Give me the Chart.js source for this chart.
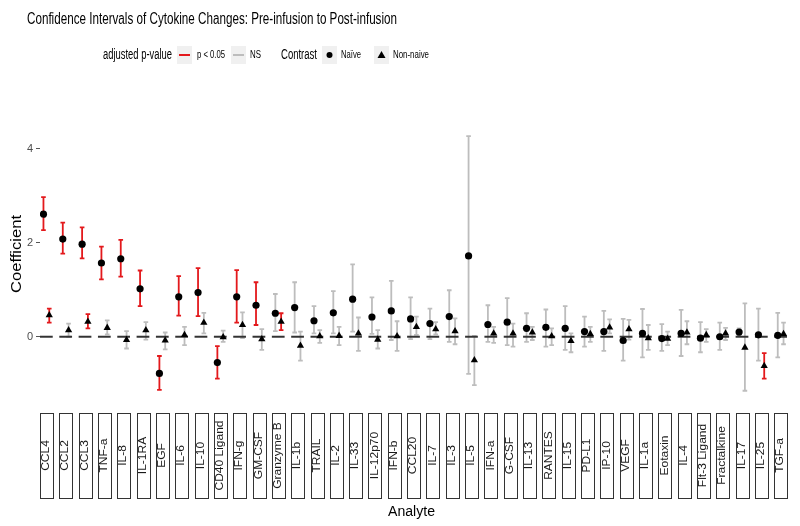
<!DOCTYPE html>
<html>
<head>
<meta charset="utf-8">
<script src="https://cdn.jsdelivr.net/npm/chart.js@4/dist/chart.umd.min.js"></script>
<style>
  html, body { margin: 0; padding: 0; background: #fff; }
  #wrap { width: 800px; height: 526px; }
</style>
</head>
<body>
<div id="wrap"><canvas id="chart" width="800" height="526"></canvas></div>
<script>
const analytes = ['CCL4', 'CCL2', 'CCL3', 'TNF-a', 'IL-8', 'IL-1RA', 'EGF', 'IL-6', 'IL-10', 'CD40 Ligand',
  'IFN-g', 'GM-CSF', 'Granzyme B', 'IL-1b', 'TRAIL', 'IL-2', 'IL-33', 'IL-12p70', 'IFN-b', 'CCL20',
  'IL-7', 'IL-3', 'IL-5', 'IFN-a', 'G-CSF', 'IL-13', 'RANTES', 'IL-15', 'PD-L1', 'IP-10',
  'VEGF', 'IL-1a', 'Eotaxin', 'IL-4', 'Flt-3 Ligand', 'Fractalkine', 'IL-17', 'IL-25', 'TGF-a'];

// Naive contrast
const naiveEst = [2.61, 2.08, 1.97, 1.57, 1.66, 1.02, -0.78, 0.85, 0.94, -0.55,
  0.85, 0.67, 0.50, 0.62, 0.34, 0.51, 0.80, 0.42, 0.55, 0.38,
  0.28, 0.43, 1.72, 0.26, 0.31, 0.18, 0.20, 0.18, 0.11, 0.11,
  -0.08, 0.07, -0.04, 0.07, -0.03, 0.00, 0.10, 0.04, 0.03];
const naiveLo = [2.27, 1.77, 1.67, 1.22, 1.28, 0.65, -1.13, 0.45, 0.44, -0.89,
  0.30, 0.25, 0.12, 0.09, 0.07, 0.07, 0.11, 0.06, -0.07, -0.05,
  -0.05, -0.11, -0.79, -0.11, -0.18, -0.11, -0.21, -0.28, -0.21, -0.30,
  -0.51, -0.44, -0.30, -0.41, -0.33, -0.28, 0.03, -0.51, -0.44];
const naiveHi = [2.97, 2.43, 2.33, 1.92, 2.06, 1.41, -0.41, 1.29, 1.46, -0.20,
  1.42, 1.16, 0.91, 1.16, 0.65, 0.97, 1.54, 0.84, 1.19, 0.84,
  0.60, 0.99, 4.27, 0.67, 0.82, 0.50, 0.58, 0.65, 0.43, 0.55,
  0.38, 0.59, 0.27, 0.57, 0.31, 0.30, 0.18, 0.60, 0.51];
const naiveSig = [1, 1, 1, 1, 1, 1, 1, 1, 1, 1,
  1, 1, 0, 0, 0, 0, 0, 0, 0, 0,
  0, 0, 0, 0, 0, 0, 0, 0, 0, 0,
  0, 0, 0, 0, 0, 0, 0, 0, 0];

// Non-naive contrast
const nonNaiveEst = [0.46, 0.14, 0.32, 0.19, -0.07, 0.14, -0.08, 0.04, 0.30, -0.01,
  0.25, -0.05, 0.32, -0.19, 0.01, 0.02, 0.07, -0.06, 0.01, 0.21,
  0.16, 0.12, -0.50, 0.07, 0.07, 0.09, 0.01, -0.09, 0.06, 0.20,
  0.16, -0.03, -0.04, 0.09, 0.04, 0.07, -0.23, -0.62, 0.06];
const nonNaiveLo = [0.30, 0.00, 0.18, 0.05, -0.25, -0.06, -0.27, -0.18, 0.07, -0.11,
  -0.03, -0.28, 0.14, -0.51, -0.13, -0.18, -0.30, -0.25, -0.30, 0.04,
  0.05, -0.16, -1.03, -0.13, -0.21, -0.07, -0.18, -0.33, -0.11, 0.07,
  -0.06, -0.28, -0.18, -0.16, -0.11, -0.07, -1.15, -0.89, -0.16];
const nonNaiveHi = [0.60, 0.28, 0.48, 0.35, 0.12, 0.31, 0.09, 0.21, 0.51, 0.13,
  0.52, 0.16, 0.50, 0.11, 0.14, 0.21, 0.41, 0.14, 0.33, 0.43,
  0.31, 0.39, 0.02, 0.21, 0.28, 0.21, 0.18, 0.07, 0.21, 0.37,
  0.36, 0.25, 0.11, 0.33, 0.16, 0.19, 0.71, -0.35, 0.30];
const nonNaiveSig = [1, 0, 1, 0, 0, 0, 0, 0, 0, 0,
  0, 0, 1, 0, 0, 0, 0, 0, 0, 0,
  0, 0, 0, 0, 0, 0, 0, 0, 0, 0,
  0, 0, 0, 0, 0, 0, 0, 1, 0];

const yTicks = [0, 2, 4];

const RED = '#e3191c';
const GREY = '#bdbdbd';
const FONT = '"Liberation Sans", Arial, sans-serif';
const dodge = 0.15;
const panelHalf = 0.33;

// draws text centred on x,y squeezed to a target width
function fitText(ctx, text, x, y, size, width, color, rotate) {
  ctx.save();
  ctx.font = size + 'px ' + FONT;
  ctx.fillStyle = color;
  ctx.textAlign = 'center';
  ctx.textBaseline = 'middle';
  const w = ctx.measureText(text).width;
  ctx.translate(x, y);
  if (rotate) ctx.rotate(-Math.PI / 2);
  ctx.scale(width / w, 1);
  ctx.fillText(text, 0, 0);
  ctx.restore();
}

function errorBar(ctx, xs, ys, x, lo, hi, sig) {
  const px = xs.getPixelForValue(x);
  const cap = xs.getPixelForValue(x + 0.12) - px;
  const y1 = ys.getPixelForValue(lo), y2 = ys.getPixelForValue(hi);
  ctx.strokeStyle = sig ? RED : GREY;
  ctx.lineWidth = 1.8;
  ctx.beginPath();
  ctx.moveTo(px, y1); ctx.lineTo(px, y2);
  ctx.moveTo(px - cap, y1); ctx.lineTo(px + cap, y1);
  ctx.moveTo(px - cap, y2); ctx.lineTo(px + cap, y2);
  ctx.stroke();
}

const facetPlugin = {
  id: 'facets',
  beforeDatasetsDraw(chart) {
    const ctx = chart.ctx;
    const xs = chart.scales.x, ys = chart.scales.y;
    ctx.save();
    analytes.forEach((a, i) => {
      errorBar(ctx, xs, ys, i + 1 - dodge, naiveLo[i], naiveHi[i], naiveSig[i]);
      errorBar(ctx, xs, ys, i + 1 + dodge, nonNaiveLo[i], nonNaiveHi[i], nonNaiveSig[i]);
    });
    // dashed zero reference, one segment per panel
    const y0 = ys.getPixelForValue(0);
    ctx.strokeStyle = '#333';
    ctx.lineWidth = 2;
    analytes.forEach((a, i) => {
      ctx.beginPath();
      ctx.moveTo(xs.getPixelForValue(i + 1 - panelHalf), y0);
      ctx.lineTo(xs.getPixelForValue(i + 1 + panelHalf), y0);
      ctx.stroke();
    });
    ctx.restore();
  },
  afterDraw(chart) {
    const ctx = chart.ctx;
    const xs = chart.scales.x;
    ctx.save();
    // strips under each panel
    const top = 413, bottom = 498;
    analytes.forEach((a, i) => {
      const l = xs.getPixelForValue(i + 1 - panelHalf);
      const r = xs.getPixelForValue(i + 1 + panelHalf);
      ctx.fillStyle = '#fff';
      ctx.strokeStyle = '#333';
      ctx.lineWidth = 1;
      ctx.fillRect(l, top, r - l, bottom - top);
      ctx.strokeRect(Math.round(l) + 0.5, top + 0.5, Math.round(r - l), bottom - top);
      ctx.save();
      ctx.translate((l + r) / 2, (top + bottom) / 2);
      ctx.rotate(-Math.PI / 2);
      ctx.scale(1, 0.85);
      ctx.font = '12px ' + FONT;
      ctx.fillStyle = '#1a1a1a';
      ctx.textAlign = 'center';
      ctx.textBaseline = 'middle';
      ctx.fillText(a, 0, 0);
      ctx.restore();
    });

    // titles
    fitText(ctx, 'Confidence Intervals of Cytokine Changes: Pre-infusion to Post-infusion', 212, 19.5, 16, 370, '#000');
    fitText(ctx, 'Coefficient', 17, 254, 15, 78, '#000', true);
    fitText(ctx, 'Analyte', 411.5, 512, 14, 47, '#000');

    // legend
    const ly = 55;
    fitText(ctx, 'adjusted p-value', 137.5, ly, 14, 69, '#000');
    const keys = [177, 231, 322, 374];
    keys.forEach(k => { ctx.fillStyle = '#f0f0f0'; ctx.fillRect(k, 46, 15, 18); });
    ctx.lineWidth = 2;
    ctx.strokeStyle = RED;
    ctx.beginPath(); ctx.moveTo(179, ly); ctx.lineTo(190, ly); ctx.stroke();
    ctx.strokeStyle = GREY;
    ctx.beginPath(); ctx.moveTo(233, ly); ctx.lineTo(244, ly); ctx.stroke();
    fitText(ctx, 'p < 0.05', 211, ly, 11, 28, '#000');
    fitText(ctx, 'NS', 255.5, ly, 11, 11, '#000');
    fitText(ctx, 'Contrast', 299, ly, 14, 36, '#000');
    fitText(ctx, 'Naïve', 351, ly, 11, 20, '#000');
    fitText(ctx, 'Non-naive', 411, ly, 11, 36, '#000');
    ctx.fillStyle = '#000';
    ctx.beginPath(); ctx.arc(329.5, ly, 3, 0, Math.PI * 2); ctx.fill();
    ctx.beginPath();
    ctx.moveTo(381.5, ly - 4); ctx.lineTo(385.5, ly + 3); ctx.lineTo(377.5, ly + 3);
    ctx.closePath(); ctx.fill();
    ctx.restore();
  }
};

const ctx = document.getElementById('chart').getContext('2d');
new Chart(ctx, {
  type: 'scatter',
  data: {
    datasets: [
      {
        label: 'Naïve',
        data: naiveEst.map((v, i) => ({ x: i + 1 - dodge, y: v })),
        pointStyle: 'circle',
        pointRadius: 3.6,
        backgroundColor: '#000',
        borderColor: '#000',
        borderWidth: 0
      },
      {
        label: 'Non-naive',
        data: nonNaiveEst.map((v, i) => ({ x: i + 1 + dodge, y: v })),
        pointStyle: 'triangle',
        pointRadius: 4.2,
        backgroundColor: '#000',
        borderColor: '#000',
        borderWidth: 0
      }
    ]
  },
  options: {
    responsive: false,
    animation: false,
    layout: { padding: { top: 123, bottom: 123.5, left: 0, right: 13 } },
    plugins: { legend: { display: false }, tooltip: { enabled: false }, title: { display: false } },
    scales: {
      x: { type: 'linear', min: 0.671, max: 39.329, display: false },
      y: {
        min: -1.4,
        max: 4.55,
        afterBuildTicks: s => { s.ticks = yTicks.map(v => ({ value: v })); },
        afterFit: s => { s.width = 40; },
        grid: { drawOnChartArea: false, drawTicks: true, tickLength: 4, color: '#555' },
        border: { display: false },
        ticks: { color: '#4d4d4d', font: { size: 11, family: FONT }, padding: 3 }
      }
    }
  },
  plugins: [facetPlugin]
});
</script>
</body>
</html>
